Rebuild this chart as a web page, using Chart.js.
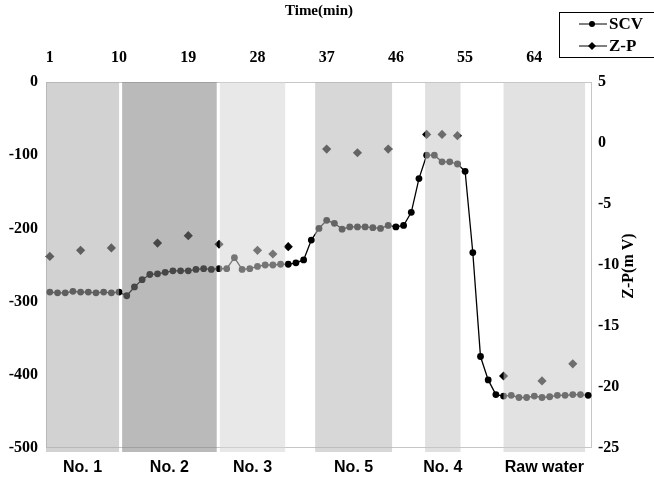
<!DOCTYPE html>
<html>
<head>
<meta charset="utf-8">
<script src="https://cdn.jsdelivr.net/npm/chart.js@4.4.0/dist/chart.umd.min.js"></script>
<style>
body { margin: 0; background: #fff; }
#wrap { width: 654px; height: 481px; }
</style>
</head>
<body>
<div id="wrap"><canvas id="zpChart" width="654" height="481"></canvas></div>
<script>
// time (min) of every SCV reading
const times = [1,2,3,4,5,6,7,8,9,10,11,12,13,14,15,16,17,18,19,20,
  21,22,23,24,25,26,27,28,29,30,31,32,33,34,35,36,37,38,39,40,
  41,42,43,44,45,46,47,48,49,50,51,52,53,54,55,56,57,58,59,60,
  61,62,63,64,65,66,67,68,69,70,71];
const tickTimes = [1,10,19,28,37,46,55,64];

const scv = [-287,-288,-288,-286,-287,-287,-288,-287,-288,-287,
  -292,-280,-270,-263,-262,-260,-258,-258,-258,-256,
  -255,-256,-255,-255,-240,-256,-255,-252,-250,-250,
  -249,-249,-247,-243,-216,-200,-189,-193,-201,-198,
  -198,-198,-199,-200,-196,-198,-196,-178,-132,-100,
  -100,-109,-109,-112,-122,-233,-375,-407,-427,-429,
  -428,-431,-431,-429,-431,-430,-428,-428,-427,-427,-428];

// zeta potential, sampled less often
const zpTimes = [1,5,9,15,19,23,28,30,32,37,41,45,50,52,54,60,65,69];
const zpValues = [-9.3,-8.8,-8.6,-8.2,-7.6,-8.3,-8.8,-9.1,-8.5,-0.5,-0.8,-0.5,0.7,0.7,0.6,-19.1,-19.5,-18.1];

// water samples and the time span each one ran
const bandNames = ["No. 1","No. 2","No. 3","No. 5","No. 4","Raw water"];
const bandFrom = [0.5,10.4,23.1,35.5,49.8,60.0];
const bandTo = [10.0,22.7,31.6,45.5,54.4,70.6];

const bandShades = ["rgba(173,173,173,0.55)","rgba(130,130,130,0.55)","rgba(213,213,213,0.55)",
  "rgba(182,182,182,0.55)","rgba(199,199,199,0.55)","rgba(202,202,202,0.55)"];
const serif = '"Liberation Serif", "Times New Roman", serif';

const bands = {
  id: "bands",
  beforeDatasetsDraw(chart) {
    const {ctx, chartArea: a} = chart;
    ctx.save();
    ctx.strokeStyle = "#c6c6c6";
    ctx.lineWidth = 1;
    ctx.strokeRect(a.left + 0.5, a.top + 0.5, a.right - a.left - 1, a.bottom - a.top - 1);
    ctx.restore();
  },
  afterDatasetsDraw(chart) {
    const {ctx, chartArea: a, scales} = chart;
    const x = scales.x;
    ctx.save();
    ctx.font = 'bold 16px "Liberation Sans", Arial, sans-serif';
    ctx.textAlign = "center";
    ctx.textBaseline = "middle";
    bandNames.forEach(function(name, i){
      const x0 = x.getPixelForValue(bandFrom[i] - 1);
      const x1 = x.getPixelForValue(bandTo[i] - 1);
      ctx.fillStyle = bandShades[i];
      ctx.fillRect(x0, a.top, x1 - x0, a.bottom - a.top + 4);
      ctx.fillStyle = "#000";
      ctx.fillText(name, (x0 + x1) / 2, 468);
    });
    ctx.restore();
  },
  afterDraw(chart) {
    const ctx = chart.ctx;
    ctx.save();
    // right axis title, reads bottom to top
    ctx.font = "bold 16px " + serif;
    ctx.fillStyle = "#000";
    ctx.textAlign = "center";
    ctx.textBaseline = "middle";
    ctx.translate(629, 266);
    ctx.rotate(-Math.PI / 2);
    ctx.fillText("Z-P(m V)", 0, 0);
    ctx.restore();

    // legend box
    ctx.save();
    ctx.strokeStyle = "#000";
    ctx.lineWidth = 1;
    ctx.strokeRect(559.5, 12.5, 100, 45);
    ctx.fillStyle = "#000";
    [24, 46].forEach(function(y){
      ctx.beginPath();
      ctx.moveTo(579, y);
      ctx.lineTo(607, y);
      ctx.stroke();
    });
    ctx.beginPath();
    ctx.arc(592, 24, 3, 0, Math.PI * 2);
    ctx.fill();
    ctx.beginPath();
    ctx.moveTo(592, 42); ctx.lineTo(596, 46); ctx.lineTo(592, 50); ctx.lineTo(588, 46);
    ctx.closePath();
    ctx.fill();
    ctx.font = "bold 17px " + serif;
    ctx.textAlign = "left";
    ctx.textBaseline = "middle";
    ctx.fillText("SCV", 609, 25);
    ctx.fillText("Z-P", 609, 47);
    ctx.restore();
  }
};

const tickFont = {family: serif, size: 16, weight: "bold"};

new Chart("zpChart", {
  type: "line",
  data: {
    labels: times,
    datasets: [{
      label: "SCV",
      data: scv,
      yAxisID: "y",
      borderColor: "#000",
      borderWidth: 1.3,
      backgroundColor: "#000",
      pointRadius: 3.4,
      pointBorderWidth: 0,
      tension: 0
    }, {
      label: "Z-P",
      data: zpTimes.map(function(t, i){ return {x: t, y: zpValues[i]}; }),
      yAxisID: "y1",
      showLine: false,
      pointStyle: "rectRot",
      pointRadius: 4.6,
      pointBorderWidth: 0,
      backgroundColor: "#000",
      borderColor: "#000"
    }]
  },
  options: {
    responsive: false,
    animation: false,
    layout: {padding: {top: 0, right: 0, bottom: 33, left: 0}},
    plugins: {
      legend: {display: false},
      tooltip: {enabled: false}
    },
    scales: {
      x: {
        type: "category",
        position: "top",
        offset: true,
        grid: {display: false, drawTicks: false},
        border: {display: false},
        afterBuildTicks: function(s){
          s.ticks = s.ticks.filter(function(t){ return tickTimes.includes(times[t.value]); });
        },
        afterFit: function(s){ s.height = 82; },
        ticks: {autoSkip: false, maxRotation: 0, color: "#000", font: tickFont, padding: 15},
        title: {display: true, text: "Time(min)", color: "#000", font: {family: serif, size: 15, weight: "bold"}, padding: {top: 2, bottom: 0}}
      },
      y: {
        position: "left",
        min: -500,
        max: 0,
        grid: {display: false, drawTicks: false},
        border: {display: false},
        afterFit: function(s){ s.width = 46; },
        ticks: {stepSize: 100, color: "#000", font: tickFont, padding: 8}
      },
      y1: {
        position: "right",
        min: -25,
        max: 5,
        grid: {display: false, drawTicks: false},
        border: {display: false},
        afterFit: function(s){ s.width = 62; },
        ticks: {stepSize: 5, color: "#000", font: tickFont, padding: 6}
      }
    }
  },
  plugins: [bands]
});
</script>
</body>
</html>
